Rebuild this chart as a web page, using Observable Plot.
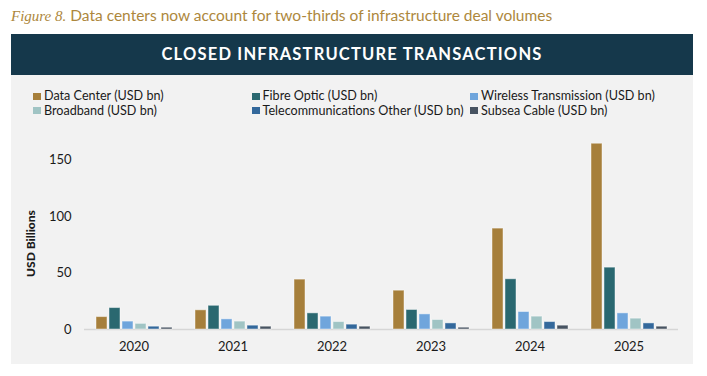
<!DOCTYPE html>
<html>
<head>
<meta charset="utf-8">
<script src="https://cdn.jsdelivr.net/npm/d3@7"></script>
<script src="https://cdn.jsdelivr.net/npm/@observablehq/plot@0.6"></script>
<style>
  html, body { margin: 0; padding: 0; background: #fff; }
  body { width: 707px; height: 376px; position: relative; overflow: hidden; font-family: Lato, "Open Sans", sans-serif; }
  #title { position: absolute; left: 11px; top: 6px; font-size: 15.5px; color: #ad873c; white-space: nowrap; }
  #title .fig { font-family: "Liberation Serif", "DejaVu Serif", serif; font-style: italic; font-size: 15px; }
  #header { position: absolute; left: 11px; top: 34px; width: 682px; height: 41px; background: #15384b; color: #fff;
            text-align: center; line-height: 41px; font-weight: bold; font-size: 16.5px; letter-spacing: 1.2px; }
  #panel { position: absolute; left: 11px; top: 75px; width: 682px; height: 289px; background: #f2f2f2; }
  #legend { position: absolute; left: 22px; top: 14px; display: grid; grid-template-columns: 218.5px 218.5px 218.5px;
            font-size: 12.6px; line-height: 14.5px; color: #1a1a1a; }
  #legend .item { display: flex; align-items: center; white-space: nowrap; }
  #legend .sw { width: 8px; height: 7px; margin-right: 3px; flex: none; }
  #chart { position: absolute; left: 0; top: 45px; }
  #chart g[aria-label="y-axis label"] text { font-weight: 900; font-size: 12px; }
</style>
</head>
<body>
<div id="title"><span class="fig">Figure 8.</span> Data centers now account for two-thirds of infrastructure deal volumes</div>
<div id="header">CLOSED INFRASTRUCTURE TRANSACTIONS</div>
<div id="panel">
  <div id="legend"></div>
  <div id="chart"></div>
</div>
<script>
const years = ["2020", "2021", "2022", "2023", "2024", "2025"];
const series = [
  "Data Center (USD bn)",
  "Fibre Optic (USD bn)",
  "Wireless Transmission (USD bn)",
  "Broadband (USD bn)",
  "Telecommunications Other (USD bn)",
  "Subsea Cable (USD bn)"
];
const dataCenter   = [11, 17, 44.2, 34.4, 89.4, 164.6];
const fibreOptic   = [19, 21, 14.3, 17.3, 44.5, 54.8];
const wireless     = [7, 9, 11.4, 13.4, 15.5, 14.3];
const broadband    = [5, 7, 6.6, 8.4, 11.4, 9.6];
const telecomOther = [2.5, 3.4, 4.3, 5.4, 6.6, 5.4];
const subseaCable  = [1.6, 2.5, 2.5, 1.6, 3.4, 2.5];
const seriesColors = ["#a67f3b", "#2a6870", "#6fa5dc", "#a0c4c4", "#33689b", "#475361"];
const yTicks = [0, 50, 100, 150];

const valuesBySeries = [dataCenter, fibreOptic, wireless, broadband, telecomOther, subseaCable];
const rows = [];
years.forEach((year, i) => {
  series.forEach((s, j) => rows.push({year, series: s, value: valuesBySeries[j][i]}));
});

const chart = Plot.plot({
  width: 682,
  height: 244,
  marginLeft: 71,
  marginRight: 14,
  marginTop: 37,
  marginBottom: 35,
  style: {fontFamily: "Lato, 'Open Sans', sans-serif", fontSize: "13px", color: "#1a1a1a", background: "transparent"},
  fx: {domain: years, padding: 0, axis: "bottom", tickSize: 0, tickPadding: 12, label: null},
  x: {domain: series, axis: null, paddingInner: 0.17, paddingOuter: 0.83},
  y: {domain: [0, 152.4], ticks: yTicks, tickSize: 0, tickPadding: 13, label: "USD Billions", labelArrow: "none", labelAnchor: "center", labelOffset: 58},
  color: {domain: series, range: seriesColors},
  marks: [
    Plot.ruleY([0], {stroke: "#d6d6d6", strokeWidth: 1.5}),
    Plot.barY(rows, {fx: "year", x: "series", y: "value", fill: "series", stroke: "#ffffff", strokeOpacity: 0.45, strokeWidth: 1})
  ]
});
document.getElementById("chart").appendChild(chart);

const color = chart.scale("color");
const legend = document.getElementById("legend");
color.domain.forEach((s, i) => {
  const item = document.createElement("div");
  item.className = "item";
  const sw = document.createElement("span");
  sw.className = "sw";
  sw.style.background = color.range[i];
  const label = document.createElement("span");
  label.textContent = s;
  item.appendChild(sw);
  item.appendChild(label);
  legend.appendChild(item);
});
</script>
</body>
</html>
